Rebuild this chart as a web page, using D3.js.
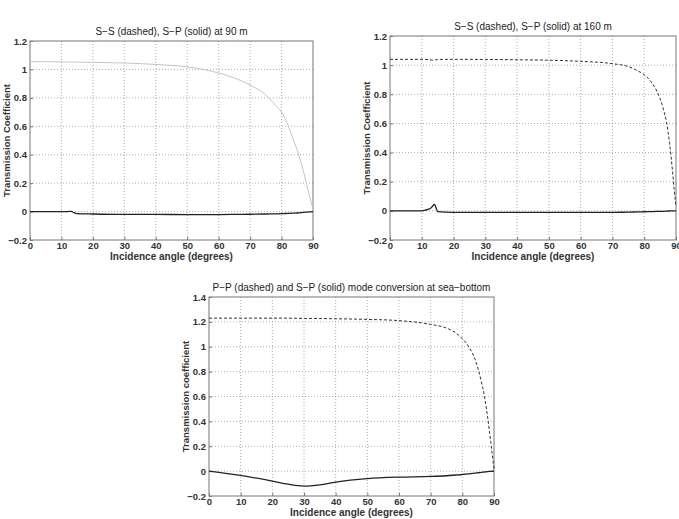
<!DOCTYPE html>
<html>
<head>
<meta charset="utf-8">
<script src="https://cdn.jsdelivr.net/npm/d3@7"></script>
<style>
  body { margin: 0; background: #fff; }
  svg { display: block; font-family: "Liberation Sans", Arial, sans-serif; }
</style>
</head>
<body>
<div id="chart"></div>
<script>
// angles (degrees) and coefficients
const angles90 = [0, 10, 12, 13, 14, 15, 20, 30, 40, 50, 55, 60, 65, 70, 75, 78, 80, 82, 84, 85, 86, 87, 88, 89, 90];
const ss90 =     [1.055, 1.053, 1.052, 1.052, 1.052, 1.051, 1.05, 1.045, 1.035, 1.018, 1.0, 0.975, 0.94, 0.89, 0.82, 0.75, 0.7, 0.61, 0.49, 0.43, 0.36, 0.28, 0.19, 0.1, 0.02];
const sp90 =     [0, 0, 0, 0.002, -0.008, -0.014, -0.017, -0.02, -0.02, -0.021, -0.021, -0.021, -0.02, -0.019, -0.017, -0.016, -0.015, -0.013, -0.011, -0.01, -0.008, -0.006, -0.004, -0.002, 0];

const angles160 = [0, 10, 11, 12, 13, 13.5, 14, 14.5, 15, 20, 30, 40, 50, 60, 70, 75, 78, 80, 82, 84, 85, 86, 87, 88, 89, 89.5, 90];
const ss160 =     [1.04, 1.04, 1.04, 1.038, 1.035, 1.034, 1.035, 1.037, 1.039, 1.04, 1.039, 1.037, 1.034, 1.026, 1.01, 0.99, 0.96, 0.935, 0.89, 0.82, 0.77, 0.7, 0.61, 0.46, 0.25, 0.13, 0.03];
const sp160 =     [0, 0, 0.004, 0.01, 0.022, 0.035, 0.045, 0.02, -0.005, -0.01, -0.011, -0.011, -0.011, -0.011, -0.01, -0.009, -0.007, -0.006, -0.005, -0.004, -0.003, -0.003, -0.002, -0.001, 0, 0, 0];

const anglesSea = [0, 10, 20, 25, 30, 35, 40, 50, 60, 70, 75, 78, 80, 82, 84, 85, 86, 87, 88, 89, 90];
const ppSea =     [1.23, 1.23, 1.23, 1.23, 1.228, 1.227, 1.225, 1.22, 1.21, 1.18, 1.15, 1.11, 1.065, 1.0, 0.9, 0.82, 0.72, 0.6, 0.43, 0.23, 0.02];
const spSea =     [0, -0.035, -0.08, -0.105, -0.12, -0.11, -0.088, -0.06, -0.048, -0.043, -0.037, -0.031, -0.027, -0.022, -0.016, -0.013, -0.01, -0.007, -0.004, -0.002, 0];

const xTicks = [0, 10, 20, 30, 40, 50, 60, 70, 80, 90];
const yTicksA = [-0.2, 0, 0.2, 0.4, 0.6, 0.8, 1, 1.2];
const yTicksB = [-0.2, 0, 0.2, 0.4, 0.6, 0.8, 1, 1.2, 1.4];

const w = 679, h = 519;
let svg = d3.select("#chart").append("svg").attr("width", w).attr("height", h);

let panels = [
  { left: 30, right: 313, top: 41, bottom: 240, yMax: 1.2, yTicks: yTicksA,
    title: "S\u2212S (dashed), S\u2212P (solid) at 90 m", ylabel: "Transmission Coefficient",
    x: angles90, upper: ss90, lower: sp90, upperColor: "#c4c4c4", upperDash: null },
  { left: 390, right: 676, top: 36, bottom: 240, yMax: 1.2, yTicks: yTicksA,
    title: "S\u2212S (dashed), S\u2212P (solid) at 160 m", ylabel: "Transmission Coefficient",
    x: angles160, upper: ss160, lower: sp160, upperColor: "#333", upperDash: "3,2" },
  { left: 209, right: 494, top: 297, bottom: 496, yMax: 1.4, yTicks: yTicksB,
    title: "P\u2212P (dashed) and S\u2212P (solid) mode conversion at sea\u2212bottom", ylabel: "Transmission coefficient",
    x: anglesSea, upper: ppSea, lower: spSea, upperColor: "#333", upperDash: "3,2" }
];

panels.forEach(p => {
  let xScale = d3.scaleLinear().domain([0, 90]).range([p.left, p.right]);
  let yScale = d3.scaleLinear().domain([-0.2, p.yMax]).range([p.bottom, p.top]);
  let g = svg.append("g");

  //dotted grid
  g.append("g").selectAll("line").data(xTicks.slice(1, -1)).enter().append("line")
    .attr("x1", d => xScale(d)).attr("x2", d => xScale(d))
    .attr("y1", p.top).attr("y2", p.bottom)
    .attr("stroke", "#999").attr("stroke-width", 0.8).attr("stroke-dasharray", "1,2");
  g.append("g").selectAll("line").data(p.yTicks.slice(1, -1)).enter().append("line")
    .attr("x1", p.left).attr("x2", p.right)
    .attr("y1", d => yScale(d)).attr("y2", d => yScale(d))
    .attr("stroke", "#999").attr("stroke-width", 0.8).attr("stroke-dasharray", "1,2");

  //frame
  g.append("rect").attr("x", p.left).attr("y", p.top)
    .attr("width", p.right - p.left).attr("height", p.bottom - p.top)
    .attr("fill", "none").attr("stroke", "#777").attr("stroke-width", 1);

  //axes
  let xAxis = d3.axisBottom(xScale).tickValues(xTicks).tickSize(-3).tickPadding(2).tickFormat(d3.format("d"));
  let yAxis = d3.axisLeft(yScale).tickValues(p.yTicks).tickSize(-3).tickPadding(3).tickFormat(d => String(+d.toFixed(1)).replace("-", "\u2212"));
  g.append("g").attr("transform", `translate(0, ${p.bottom})`).call(xAxis)
    .call(a => a.select(".domain").remove())
    .call(a => a.selectAll("line").attr("stroke", "#777"))
    .selectAll("text").attr("font-size", "9.5px").attr("font-weight", "bold").attr("fill", "#333")
    .attr("font-family", "Liberation Sans, Arial, sans-serif");
  g.append("g").attr("transform", `translate(${p.left}, 0)`).call(yAxis)
    .call(a => a.select(".domain").remove())
    .call(a => a.selectAll("line").attr("stroke", "#777"))
    .selectAll("text").attr("font-size", "9.5px").attr("font-weight", "bold").attr("fill", "#333")
    .attr("font-family", "Liberation Sans, Arial, sans-serif");

  //lines
  let line = (ys) => d3.line().x((d, i) => xScale(p.x[i])).y(d => yScale(d)).curve(d3.curveMonotoneX)(ys);
  g.append("path").attr("d", line(p.upper)).attr("fill", "none")
    .attr("stroke", p.upperColor).attr("stroke-width", 1)
    .attr("stroke-dasharray", p.upperDash);
  g.append("path").attr("d", line(p.lower)).attr("fill", "none")
    .attr("stroke", "#222").attr("stroke-width", 1.3);

  //titles
  let cx = (p.left + p.right) / 2;
  g.append("text").attr("x", cx).attr("y", p.top - 6).attr("text-anchor", "middle")
    .attr("font-size", "10px").attr("fill", "#222").text(p.title);
  g.append("text").attr("x", cx).attr("y", p.bottom + 19.5).attr("text-anchor", "middle")
    .attr("font-size", "10px").attr("font-weight", "bold").attr("fill", "#333").text("Incidence angle (degrees)");
  g.append("text").attr("transform", `translate(${p.left - 20}, ${(p.top + p.bottom) / 2}) rotate(-90)`)
    .attr("text-anchor", "middle").attr("font-size", "9.5px").attr("font-weight", "bold").attr("fill", "#333")
    .text(p.ylabel);
});
</script>
</body>
</html>
